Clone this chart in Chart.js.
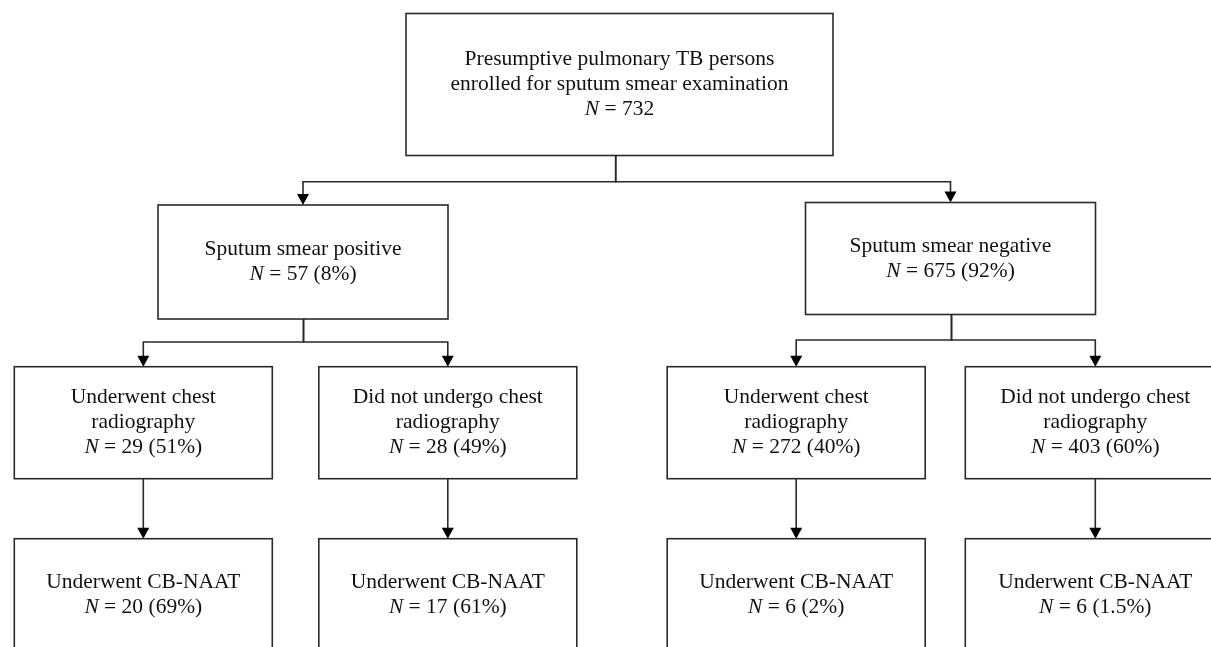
<!DOCTYPE html>
<html lang="en">
<head>
    <meta charset="UTF-8">
    <title>TB screening flow</title>
    <script src="https://cdn.jsdelivr.net/npm/chart.js"></script>
    <style>
        html, body { margin: 0; padding: 0; background: #fff; }
        #wrap { width: 1211px; height: 647px; }
    </style>
</head>
<body>
    <div id="wrap"><canvas id="flow" width="1211" height="647"></canvas></div>
    <script>
        // flow steps: text, counts, percentages, parent step
        const stepLabels = [
            ['Presumptive pulmonary TB persons', 'enrolled for sputum smear examination'],
            ['Sputum smear positive'],
            ['Sputum smear negative'],
            ['Underwent chest', 'radiography'],
            ['Did not undergo chest', 'radiography'],
            ['Underwent chest', 'radiography'],
            ['Did not undergo chest', 'radiography'],
            ['Underwent CB-NAAT'],
            ['Underwent CB-NAAT'],
            ['Underwent CB-NAAT'],
            ['Underwent CB-NAAT']
        ];
        const stepCounts = [732, 57, 675, 29, 28, 272, 403, 20, 17, 6, 6];
        const stepPercents = [null, '8%', '92%', '51%', '49%', '40%', '60%', '69%', '61%', '2%', '1.5%'];
        const stepParent = [null, 0, 0, 1, 1, 2, 2, 3, 4, 5, 6];

        // layout in diagram units (x 0..1211, y 0..647 from top)
        const boxLayout = [
            { cx: 619.5, top: 13.5, w: 427, h: 142 },
            { cx: 303, top: 205, w: 290, h: 114 },
            { cx: 950.5, top: 202.5, w: 290, h: 112 },
            { cx: 143.3, top: 366.7, w: 258, h: 112 },
            { cx: 447.8, top: 366.7, w: 258, h: 112 },
            { cx: 796.2, top: 366.7, w: 258, h: 112 },
            { cx: 1095.3, top: 366.7, w: 260, h: 112 },
            { cx: 143.3, top: 538.7, w: 258, h: 113 },
            { cx: 447.8, top: 538.7, w: 258, h: 113 },
            { cx: 796.2, top: 538.7, w: 258, h: 113 },
            { cx: 1095.3, top: 538.7, w: 260, h: 113 }
        ];
        // stem x and bus y for parents with two children
        const branchLayout = {
            0: { stemX: 615.7, busY: 181.7 },
            1: { stemX: 303.5, busY: 342 },
            2: { stemX: 951.5, busY: 340 }
        };

        const lineColor = '#2a2a2a';
        const fontSize = 21.5;
        const lineGap = 25;
        const serif = "'Liberation Serif', 'DejaVu Serif', serif";

        const flowPlugin = {
            id: 'flow',
            afterDraw(chart) {
                const ctx = chart.ctx;
                const xs = chart.scales.x, ys = chart.scales.y;
                const px = v => xs.getPixelForValue(v);
                const py = v => ys.getPixelForValue(v);

                ctx.save();
                ctx.strokeStyle = lineColor;
                ctx.fillStyle = '#000';
                ctx.lineWidth = 1.6;

                function arrowHead(x, yTip) {
                    ctx.beginPath();
                    ctx.moveTo(px(x) - 6, py(yTip) - 11);
                    ctx.lineTo(px(x) + 6, py(yTip) - 11);
                    ctx.lineTo(px(x), py(yTip));
                    ctx.closePath();
                    ctx.fill();
                }

                // connectors
                stepParent.forEach((p, i) => {
                    if (p === null) return;
                    const parent = boxLayout[p], child = boxLayout[i];
                    const br = branchLayout[p];
                    ctx.beginPath();
                    if (br) {
                        ctx.moveTo(px(br.stemX), py(parent.top + parent.h));
                        ctx.lineTo(px(br.stemX), py(br.busY));
                        ctx.lineTo(px(child.cx), py(br.busY));
                        ctx.lineTo(px(child.cx), py(child.top - 8));
                    } else {
                        ctx.moveTo(px(child.cx), py(parent.top + parent.h));
                        ctx.lineTo(px(child.cx), py(child.top - 8));
                    }
                    ctx.stroke();
                    arrowHead(child.cx, child.top);
                });

                // boxes and text
                boxLayout.forEach((b, i) => {
                    const x0 = px(b.cx - b.w / 2), x1 = px(b.cx + b.w / 2);
                    const y0 = py(b.top), y1 = py(b.top + b.h);
                    ctx.fillStyle = '#fff';
                    ctx.fillRect(x0, y0, x1 - x0, y1 - y0);
                    ctx.strokeRect(x0, y0, x1 - x0, y1 - y0);

                    const lines = stepLabels[i];
                    const n = lines.length + 1;
                    const cx = (x0 + x1) / 2;
                    const cy = (y0 + y1) / 2;
                    const firstY = cy - (n - 1) * lineGap / 2;
                    ctx.fillStyle = '#111';
                    ctx.textBaseline = 'middle';
                    ctx.textAlign = 'center';
                    ctx.font = fontSize + 'px ' + serif;
                    lines.forEach((t, k) => ctx.fillText(t, cx, firstY + k * lineGap));

                    const rest = ' = ' + stepCounts[i] + (stepPercents[i] ? ' (' + stepPercents[i] + ')' : '');
                    ctx.font = 'italic ' + fontSize + 'px ' + serif;
                    const wN = ctx.measureText('N').width;
                    ctx.font = fontSize + 'px ' + serif;
                    const wR = ctx.measureText(rest).width;
                    const sx = cx - (wN + wR) / 2;
                    const ly = firstY + lines.length * lineGap;
                    ctx.textAlign = 'left';
                    ctx.font = 'italic ' + fontSize + 'px ' + serif;
                    ctx.fillText('N', sx, ly);
                    ctx.font = fontSize + 'px ' + serif;
                    ctx.fillText(rest, sx + wN, ly);
                });
                ctx.restore();
            }
        };

        new Chart(document.getElementById('flow'), {
            type: 'scatter',
            data: { datasets: [{ data: [] }] },
            options: {
                responsive: false,
                animation: false,
                layout: { padding: 0 },
                plugins: { legend: { display: false }, tooltip: { enabled: false } },
                scales: {
                    x: { type: 'linear', min: 0, max: 1211, display: false },
                    y: { type: 'linear', min: 0, max: 647, reverse: true, display: false }
                }
            },
            plugins: [flowPlugin]
        });
    </script>
</body>
</html>
